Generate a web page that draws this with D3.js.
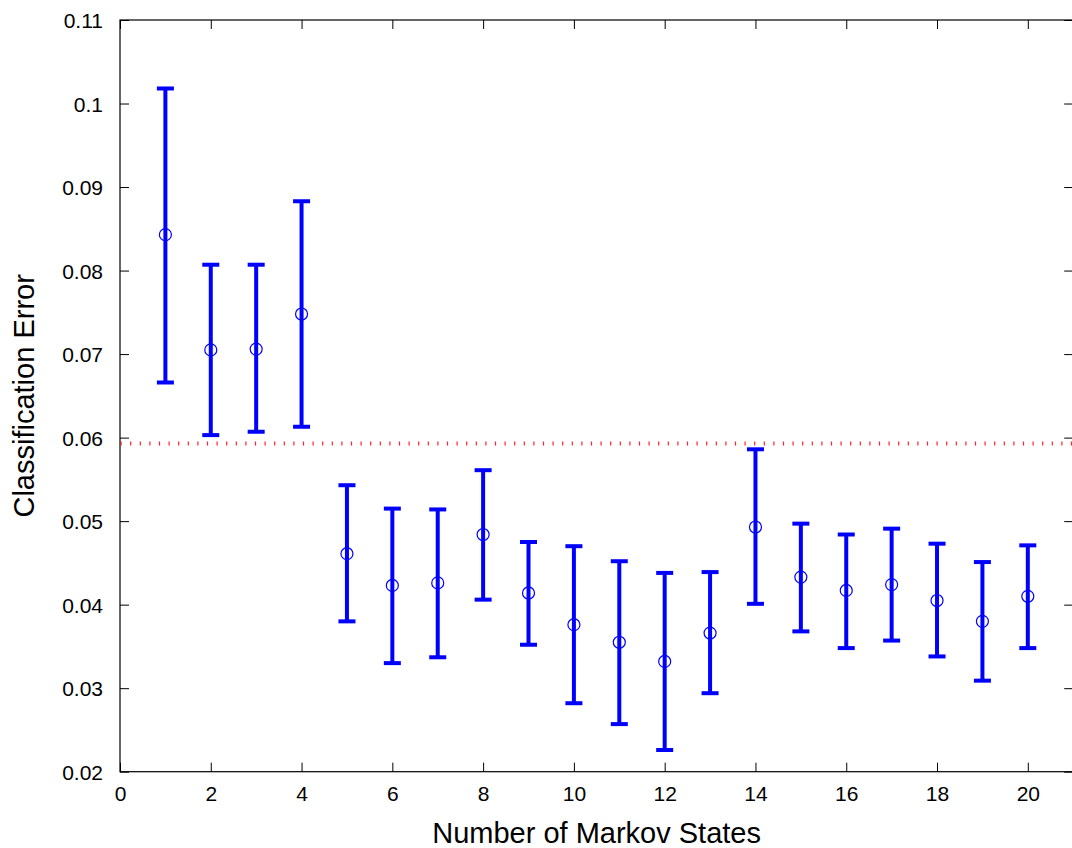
<!DOCTYPE html>
<html>
<head>
<meta charset="utf-8">
<script src="https://cdn.jsdelivr.net/npm/d3@7"></script>
<style>
  html, body { margin: 0; padding: 0; background: #fff; }
  svg { display: block; font-family: "Liberation Sans", Arial, Helvetica, sans-serif; }
</style>
</head>
<body>
<svg id="chart" width="1072" height="848"></svg>
<script>
// ---- Data ----
const states     = [1, 2, 3, 4, 5, 6, 7, 8, 9, 10, 11, 12, 13, 14, 15, 16, 17, 18, 19, 20];
const meanError  = [0.0843, 0.0705, 0.0706, 0.0748, 0.0461, 0.0423, 0.0426, 0.0484, 0.0414, 0.0376,
                    0.0355, 0.0332, 0.0366, 0.0493, 0.0433, 0.0417, 0.0424, 0.0405, 0.0380, 0.0410];
const upperError = [0.1018, 0.0807, 0.0807, 0.0883, 0.0543, 0.0515, 0.0514, 0.0561, 0.0475, 0.0470,
                    0.0452, 0.0438, 0.0439, 0.0586, 0.0497, 0.0484, 0.0491, 0.0473, 0.0451, 0.0471];
const lowerError = [0.0666, 0.0603, 0.0607, 0.0613, 0.0380, 0.0330, 0.0337, 0.0406, 0.0352, 0.0282,
                    0.0257, 0.0226, 0.0294, 0.0401, 0.0368, 0.0348, 0.0357, 0.0338, 0.0309, 0.0348];
const baselineError = [0.0593];
const xTickValues = [0, 2, 4, 6, 8, 10, 12, 14, 16, 18, 20];
const xTickLabels = ["0", "2", "4", "6", "8", "10", "12", "14", "16", "18", "20"];
const yTickValues = [0.02, 0.03, 0.04, 0.05, 0.06, 0.07, 0.08, 0.09, 0.10, 0.11];
const yTickLabels = ["0.02", "0.03", "0.04", "0.05", "0.06", "0.07", "0.08", "0.09", "0.1", "0.11"];
const xLabel = "Number of Markov States";
const yLabel = "Classification Error";

// ---- Layout ----
const svg = d3.select("#chart");
const pLeft = 120, pRight = 1073.2, pTop = 20, pBottom = 771.7;

const x = d3.scaleLinear().domain([0, 21]).range([pLeft, pRight]);
const y = d3.scaleLinear().domain([0.02, 0.11]).range([pBottom, pTop]);

const tickLen = 9;
const tickFont = "21px";

// Frame
svg.append("rect")
  .attr("x", pLeft).attr("y", pTop)
  .attr("width", pRight - pLeft).attr("height", pBottom - pTop)
  .attr("fill", "none").attr("stroke", "#000").attr("stroke-width", 1.2);

// Axes with inward ticks
const xAxisB = d3.axisBottom(x).tickValues(xTickValues)
  .tickFormat((d, i) => xTickLabels[i]).tickSizeInner(-tickLen).tickSizeOuter(0).tickPadding(14);
const gxb = svg.append("g").attr("transform", `translate(0,${pBottom})`).call(xAxisB);
const xAxisT = d3.axisTop(x).tickValues(xTickValues).tickFormat("").tickSizeInner(-tickLen).tickSizeOuter(0);
const gxt = svg.append("g").attr("transform", `translate(0,${pTop})`).call(xAxisT);
const yAxisL = d3.axisLeft(y).tickValues(yTickValues)
  .tickFormat((d, i) => yTickLabels[i]).tickSizeInner(-tickLen).tickSizeOuter(0).tickPadding(17);
const gyl = svg.append("g").attr("transform", `translate(${pLeft},0)`).call(yAxisL);
const yAxisR = d3.axisRight(y).tickValues(yTickValues).tickFormat("").tickSizeInner(-tickLen).tickSizeOuter(0);
const gyr = svg.append("g").attr("transform", `translate(${pRight},0)`).call(yAxisR);

[gxb, gxt, gyl, gyr].forEach(g => {
  g.select(".domain").remove();
  g.selectAll(".tick line").attr("stroke", "#000").attr("stroke-width", 1);
  g.selectAll(".tick text")
    .attr("fill", "#000")
    .style("font-size", tickFont)
    .style("font-family", '"Liberation Sans", Arial, Helvetica, sans-serif');
});
gyl.selectAll(".tick text").attr("dy", "0.36em");
gxb.selectAll(".tick text").attr("dy", "0.71em");

// Reference dotted line
svg.selectAll("line.ref").data(baselineError).enter().append("line")
  .attr("class", "ref")
  .attr("x1", pLeft + 0.5).attr("x2", pRight)
  .attr("y1", d => y(d)).attr("y2", d => y(d))
  .attr("stroke", "#ff0000").attr("stroke-width", 4)
  .attr("stroke-dasharray", "1.2,8.4")
  .attr("opacity", 0.85);

// Error bars
const color = "#0000ff";
const capHalf = 8.5;
const barData = states.map((s, i) => ({ s, m: meanError[i], hi: upperError[i], lo: lowerError[i] }));
const gBars = svg.append("g");
gBars.selectAll("line.v").data(barData).enter().append("line")
  .attr("class", "v")
  .attr("x1", d => x(d.s)).attr("x2", d => x(d.s))
  .attr("y1", d => y(d.hi)).attr("y2", d => y(d.lo))
  .attr("stroke", color).attr("stroke-width", 4);
gBars.selectAll("line.capt").data(barData).enter().append("line")
  .attr("class", "capt")
  .attr("x1", d => x(d.s) - capHalf).attr("x2", d => x(d.s) + capHalf)
  .attr("y1", d => y(d.hi)).attr("y2", d => y(d.hi))
  .attr("stroke", color).attr("stroke-width", 4);
gBars.selectAll("line.capb").data(barData).enter().append("line")
  .attr("class", "capb")
  .attr("x1", d => x(d.s) - capHalf).attr("x2", d => x(d.s) + capHalf)
  .attr("y1", d => y(d.lo)).attr("y2", d => y(d.lo))
  .attr("stroke", color).attr("stroke-width", 4);
gBars.selectAll("circle").data(barData).enter().append("circle")
  .attr("cx", d => x(d.s)).attr("cy", d => y(d.m)).attr("r", 6)
  .attr("fill", "none").attr("stroke", color).attr("stroke-width", 1.2);

// Axis labels
svg.append("text")
  .attr("x", (pLeft + pRight) / 2).attr("y", 843)
  .attr("text-anchor", "middle")
  .style("font-size", "29px").attr("fill", "#000")
  .text(xLabel);
svg.append("text")
  .attr("transform", `translate(34,${(pTop + pBottom) / 2}) rotate(-90)`)
  .attr("text-anchor", "middle")
  .style("font-size", "29px").attr("fill", "#000")
  .text(yLabel);
</script>
</body>
</html>
